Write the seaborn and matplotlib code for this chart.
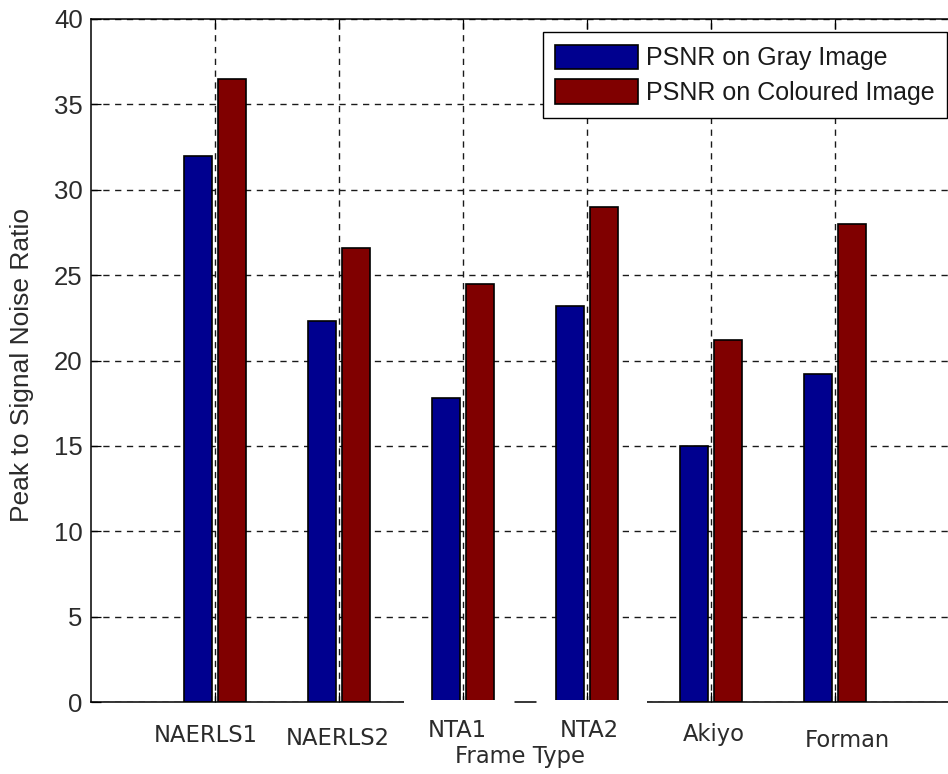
import matplotlib
matplotlib.use("Agg")
import numpy as np
import pandas as pd
import matplotlib.pyplot as plt
import matplotlib.transforms as mtransforms
from matplotlib.patches import Patch, Rectangle
from matplotlib.lines import Line2D
import seaborn as sns

# ---------------- data ----------------
frames = ["NAERLS1", "NAERLS2", "NTA1", "NTA2", "Akiyo", "Forman"]
psnr_gray = [32.0, 22.3, 17.8, 23.2, 15.0, 19.2]
psnr_coloured = [36.5, 26.6, 24.5, 29.0, 21.2, 28.0]
series_names = ["PSNR on Gray Image", "PSNR on Coloured Image"]
y_ticks = [0, 5, 10, 15, 20, 25, 30, 35, 40]

# ---------------- layout / style ----------------
colors = ["#00008F", "#800000"]
# hand-placed category label offsets (data units) and baselines (pixels)
label_dx = [-0.077, -0.012, -0.044, 0.016, 0.020, 0.097]
label_baseline_px = [742, 745, 737, 737, 741, 747]

df = pd.DataFrame({
    "Frame Type": frames * 2,
    "Series": [series_names[0]] * len(frames) + [series_names[1]] * len(frames),
    "PSNR": psnr_gray + psnr_coloured,
})

sns.set_theme(style="white")
plt.rcParams["font.family"] = ["Liberation Sans", "DejaVu Sans"]

W, H = 948, 774
fig = plt.figure(figsize=(W / 100, H / 100), dpi=100)
ax_l, ax_t, ax_b, ax_w = 91, 19, 702, 868
ax = fig.add_axes([ax_l / W, (H - ax_b) / H, ax_w / W, (ax_b - ax_t) / H])

sns.barplot(
    data=df, x="Frame Type", y="PSNR", hue="Series",
    order=frames, hue_order=series_names, palette=colors,
    width=0.55, gap=0.17, edgecolor="black", linewidth=1.2,
    saturation=1, errorbar=None, legend=False, ax=ax,
)

ax.set_xlim(-1, 6)
ax.set_ylim(0, 40)
ax.set_yticks(y_ticks)
ax.set_xticks(range(len(frames)))
ax.set_xticklabels([""] * len(frames))

ax.grid(True, color="#1a1a1a", linestyle=(0, (4.5, 4)), linewidth=1.0)
ax.set_axisbelow(True)

for sp in ax.spines.values():
    sp.set_visible(True)
    sp.set_color("black")
    sp.set_linewidth(1.1)

ax.tick_params(axis="both", direction="in", length=7, width=0.9,
               color="black", top=True, right=True, bottom=True, left=True,
               labelbottom=False, labelsize=18.5, labelcolor="#2b2b2b", pad=6)

ax.set_ylabel("Peak to Signal Noise Ratio", fontsize=19, color="#2b2b2b")
ax.yaxis.set_label_coords((34 - ax_l) / ax_w, (ax_b - 365) / (ax_b - ax_t))

ax.set_xlabel("Frame Type", fontsize=16.3, family="DejaVu Sans", color="#2b2b2b")
ax.xaxis.set_label_coords((520 - ax_l) / ax_w, (ax_b - 763) / (ax_b - ax_t))
ax.xaxis.label.set_va("baseline")

trans = mtransforms.blended_transform_factory(ax.transData, fig.transFigure)
for i, name in enumerate(frames):
    ax.text(i + label_dx[i], 1 - label_baseline_px[i] / H, name,
            transform=trans, ha="center", va="baseline",
            fontsize=16.3, family="DejaVu Sans", color="#2b2b2b",
            clip_on=False)

handles = [Patch(facecolor=c, edgecolor="black", linewidth=1.2) for c in colors]
leg = ax.legend(handles, series_names, loc="upper right",
                bbox_to_anchor=(947 / W, 1 - 32 / H), bbox_transform=fig.transFigure,
                borderaxespad=0, frameon=True, fancybox=False, framealpha=1,
                edgecolor="black", fontsize=18, handlelength=3.3,
                handleheight=1.14, handletextpad=0.32, labelspacing=0.36,
                borderpad=0.5)
leg.get_frame().set_linewidth(1.0)
for t in leg.get_texts():
    t.set_color("#1a1a1a")

# white patch over part of the baseline, as in the reference image
fig.add_artist(Rectangle((404 / W, 1 - 708 / H), (647 - 404) / W, 8.5 / H,
                         transform=fig.transFigure, facecolor="white",
                         edgecolor="none", zorder=10))
fig.add_artist(Line2D([515 / W, 536 / W], [1 - 702 / H, 1 - 702 / H],
                      transform=fig.transFigure, color="black", linewidth=1.1,
                      zorder=11))

fig.savefig("out.png", dpi=100)
